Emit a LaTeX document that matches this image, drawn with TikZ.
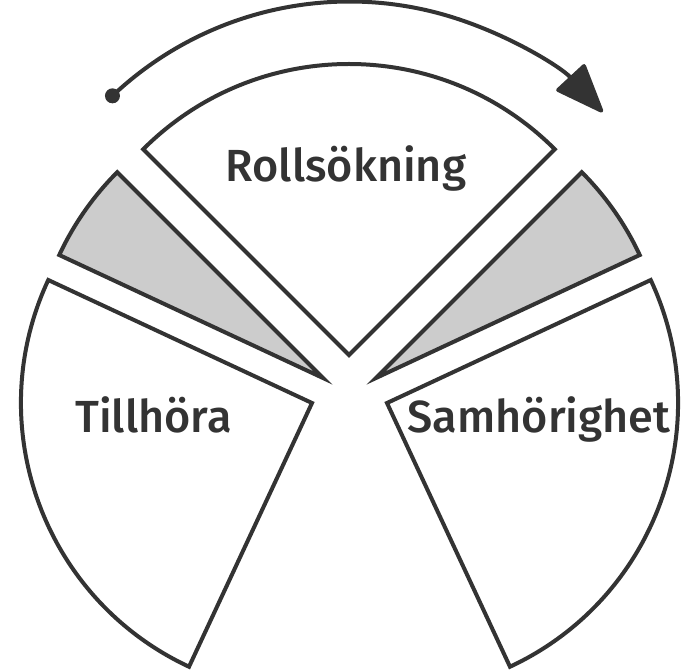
\documentclass[tikz,border=0pt]{standalone}
\usepackage{fontspec}
\newfontfamily\piecefont{Fira Sans Medium}
\usetikzlibrary{arrows.meta}
\definecolor{ink}{HTML}{333333}
\definecolor{shade}{HTML}{CCCCCC}

\begin{document}
\begin{tikzpicture}[x=1pt,y=1pt,
    piece/.style={draw=ink, line width=4pt},
    piecetext/.style={font=\piecefont\fontsize{45}{45}\selectfont, text=ink, anchor=base, inner sep=0pt}]
  \useasboundingbox (0,0) rectangle (694,670);

  % Draw the five slices: apex x / apex y / start angle / end angle / fill
  \foreach \ax/\ay/\a/\b/\f in {349/315/45/135/white, 312/267/155/245/white,
      387/267/-65/25/white, 323/292/135/155/shade, 376/292/25/45/shade}
    {\draw[piece, fill=\f] (\ax,\ay) -- ++(\a:291) arc[start angle=\a, end angle=\b, radius=291] -- cycle;}

  % Turning arrow over the top slice
  \coordinate (hub) at (349.5,323.5);
  \path (hub) ++(133.4:345) coordinate (start);
  \draw[ink, line width=4pt, -{Triangle[length=52pt, width=40pt, round]}]
    (start) arc[start angle=133.4, end angle=42.8, radius=345];
  \fill[ink] (start) circle[radius=7.5];

  % Slice labels
  \node[piecetext] (rollsokning) at (346,488) {Rollsökning};
  \node[piecetext] (tillhora) at (153.5,237) {Tillhöra};
  \node[piecetext] (samhorighet) at (539,237) {Samhörighet};
\end{tikzpicture}
\end{document}
